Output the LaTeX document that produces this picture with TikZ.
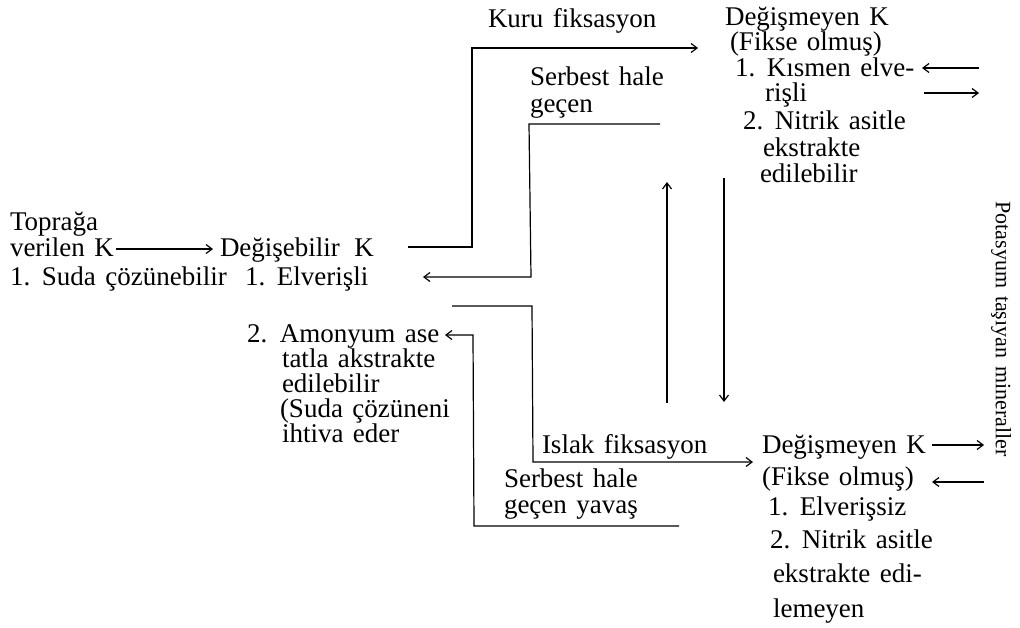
\documentclass[tikz,border=0pt]{standalone}
\usepackage{fontspec}
\setmainfont{Liberation Serif}[WordSpace=1.4]
\newfontfamily\sidefont{Liberation Serif}[WordSpace=1.4]
\usetikzlibrary{arrows.meta}
\begin{document}
\begin{tikzpicture}[x=1pt,y=-1pt,
  txt/.style={anchor=base west,inner sep=0pt,outer sep=0pt,font=\fontsize{27}{27}\selectfont},
  link/.style={line width=1.2pt},
  arr/.style={link,-{Straight Barb[length=6pt,width=9pt,line width=1.2pt]}}]
\fill[white] (0,0) rectangle (1020,627);
\useasboundingbox (0,0) rectangle (1020,627);

% soil input
\node[txt] (tp) at (10,230) {Toprağa};
\node[txt] (vk) at (10,256) {verilen K};
\node[txt] (sc) at (10,285) {1. Suda çözünebilir};

% exchangeable K
\node[txt] (db) at (220,256) {Değişebilir\hspace{5pt} K};
\node[txt] (el) at (245,285) {1. Elverişli};
\node[txt] (am) at (247,342) {2.\hspace{1pt} Amonyum ase};
\node[txt] (ta) at (282,367) {tatla akstrakte};
\node[txt] (ed) at (282,392) {edilebilir};
\node[txt] (sz) at (280,417) {(Suda çözüneni};
\node[txt] (ie) at (282,442) {ihtiva eder};

% process labels
\node[txt] (kf) at (488,27) {Kuru fiksasyon};
\node[txt] (sh1) at (530,85) {Serbest hale};
\node[txt] (gc1) at (530,112) {geçen};
\node[txt] (if) at (542,453) {Islak fiksasyon};
\node[txt] (sh2) at (504,487) {Serbest hale};
\node[txt] (gc2) at (504,513) {geçen yavaş};

% fixed K, upper block
\node[txt] (dm1) at (725,25) {Değişmeyen K};
\node[txt] (fo1) at (730,50) {(Fikse olmuş)};
\node[txt] (ke) at (735,76) {1. Kısmen elve-};
\node[txt] (rs) at (765,101) {rişli};
\node[txt] (na1) at (743,129) {2. Nitrik asitle};
\node[txt] (ek1) at (763,156) {ekstrakte};
\node[txt] (eb1) at (760,182) {edilebilir};

% fixed K, lower block
\node[txt] (dm2) at (762,453) {Değişmeyen K};
\node[txt] (fo2) at (762,485) {(Fikse olmuş)};
\node[txt] (es) at (768,515) {1. Elverişsiz};
\node[txt] (na2) at (770,548) {2. Nitrik asitle};
\node[txt] (ek2) at (773,582) {ekstrakte edi-};
\node[txt] (lm) at (773,617) {lemeyen};

% minerals
\node[inner sep=0pt,rotate=-90,font=\sidefont\fontsize{22}{24}\selectfont] (pm) at (1001,329) {Potasyum taşıyan mineraller};

% corner points of the flow lines
\coordinate (k0) at (408,247);
\coordinate (k1) at (472,247);
\coordinate (k2) at (472,48);
\coordinate (s0) at (660,124);
\coordinate (s1) at (529,124);
\coordinate (s2) at (531,277);
\coordinate (i0) at (452,306);
\coordinate (i1) at (532,306);
\coordinate (i2) at (533,462);
\coordinate (y0) at (679,526);
\coordinate (y1) at (474,526);
\coordinate (y2) at (473,335);
\coordinate (up0) at (667,403);
\coordinate (up1) at (667,182);
\coordinate (dn0) at (724,178);
\coordinate (dn1) at (724,402);

% flows
\draw[arr] ([xshift=2pt]vk.east |- 0,249) -- (213,249);
\draw[arr] (k0) -- (k1) -- (k2) -- (698,48);
\draw[arr] (s0) -- (s1) -- (s2) -- (423,277);
\draw[arr] (i0) -- (i1) -- (i2) -- (753,462);
\draw[arr] (y0) -- (y1) -- (y2) -- (445,335);
\draw[arr] (up0) -- (up1);
\draw[arr] (dn0) -- (dn1);

% exchange with minerals
\draw[arr] (979,68) -- (922,68);
\draw[arr] (924,93) -- (979,93);
\draw[arr] (932,445) -- (984,445);
\draw[arr] (984,482) -- (932,482);
\end{tikzpicture}
\end{document}
